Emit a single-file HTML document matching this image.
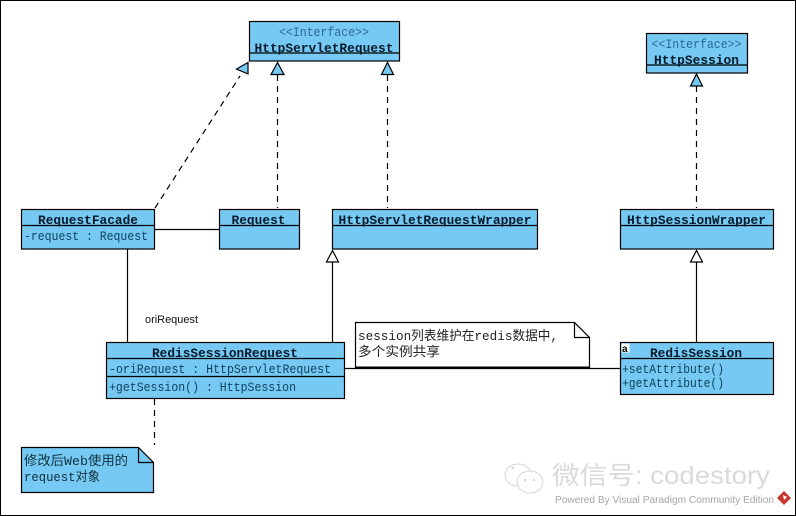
<!DOCTYPE html>
<html><head><meta charset="utf-8">
<style>
html,body{margin:0;padding:0;background:#fff;width:796px;height:516px;overflow:hidden}
svg{display:block}
.b{fill:#76c9f2;stroke:#000;stroke-width:1.2}
.l{stroke:#000;stroke-width:1.2;fill:none}
.d{stroke:#000;stroke-width:1.2;fill:none;stroke-dasharray:6 5}
.n{font:bold 13px "Liberation Mono","Noto Sans CJK SC",monospace;fill:#021a2c;text-anchor:middle}
.a{font:13px "Liberation Mono","Noto Sans CJK SC",monospace;fill:#0f4260}
.s{font:13px "Liberation Mono",monospace;fill:#2a6a90;text-anchor:middle}
.c{font:13px "Liberation Mono","Noto Sans CJK SC",monospace;fill:#10303f}
.w{font:13px "Liberation Mono","Noto Sans CJK SC",monospace;fill:#222}
</style></head><body>
<svg width="796" height="516" viewBox="0 0 796 516" xmlns="http://www.w3.org/2000/svg">
<rect x="0.5" y="0.5" width="795" height="515" fill="#fff" stroke="#000" stroke-width="1"/>

<!-- connectors -->
<line class="d" x1="155" y1="208" x2="240" y2="76"/>
<line class="d" x1="277.5" y1="75" x2="277.5" y2="208"/>
<line class="d" x1="387.5" y1="75" x2="387.5" y2="208"/>
<line class="d" x1="696.5" y1="86" x2="696.5" y2="208"/>
<line class="l" x1="155" y1="229.5" x2="219" y2="229.5"/>
<line class="l" x1="127.5" y1="249" x2="127.5" y2="342"/>
<line class="l" x1="332.5" y1="262" x2="332.5" y2="342"/>
<line class="l" x1="696.5" y1="262" x2="696.5" y2="342"/>
<line class="l" x1="345" y1="368.5" x2="620" y2="368.5"/>
<line class="d" x1="154.5" y1="399" x2="154.5" y2="445"/>

<!-- arrowheads -->
<polygon class="b" points="248,62.5 236.5,69 248,74"/>
<polygon class="b" points="277.5,62.5 271,74.5 284,74.5"/>
<polygon class="b" points="387.5,62.5 381.5,74.5 393.5,74.5"/>
<polygon class="b" points="696.5,74 690.5,86 702.5,86"/>
<polygon points="332.5,250.5 326.5,262 338.5,262" fill="#fff" stroke="#000" stroke-width="1.2"/>
<polygon points="696.5,250.5 690.5,262 702.5,262" fill="#fff" stroke="#000" stroke-width="1.2"/>

<!-- HttpServletRequest -->
<rect class="b" x="249.5" y="21.5" width="150" height="39.5"/>
<line class="l" x1="249.5" y1="53" x2="399.5" y2="53"/>
<text class="s" x="324" y="36" textLength="90" lengthAdjust="spacingAndGlyphs">&lt;&lt;Interface&gt;&gt;</text>
<text class="n" x="324" y="52" textLength="139" lengthAdjust="spacingAndGlyphs">HttpServletRequest</text>

<!-- HttpSession iface -->
<rect class="b" x="646.5" y="33.5" width="101" height="39.5"/>
<line class="l" x1="646.5" y1="65" x2="747.5" y2="65"/>
<text class="s" x="696.5" y="48" textLength="90" lengthAdjust="spacingAndGlyphs">&lt;&lt;Interface&gt;&gt;</text>
<text class="n" x="696.5" y="64" textLength="85" lengthAdjust="spacingAndGlyphs">HttpSession</text>

<!-- RequestFacade -->
<rect class="b" x="21.5" y="209.5" width="133" height="39.5"/>
<line class="l" x1="21.5" y1="225.5" x2="154.5" y2="225.5"/>
<text class="n" x="88" y="224" textLength="100" lengthAdjust="spacingAndGlyphs">RequestFacade</text>
<text class="a" x="24" y="240" textLength="124" lengthAdjust="spacingAndGlyphs">-request : Request</text>

<!-- Request -->
<rect class="b" x="219.5" y="209.5" width="80" height="39.5"/>
<line class="l" x1="219.5" y1="225.5" x2="299.5" y2="225.5"/>
<text class="n" x="258.5" y="224" textLength="54" lengthAdjust="spacingAndGlyphs">Request</text>

<!-- HttpServletRequestWrapper -->
<rect class="b" x="332.5" y="209.5" width="205" height="39.5"/>
<line class="l" x1="332.5" y1="225.5" x2="537.5" y2="225.5"/>
<text class="n" x="435" y="224" textLength="193" lengthAdjust="spacingAndGlyphs">HttpServletRequestWrapper</text>

<!-- HttpSessionWrapper -->
<rect class="b" x="620.5" y="209.5" width="153" height="39.5"/>
<line class="l" x1="620.5" y1="225.5" x2="773.5" y2="225.5"/>
<text class="n" x="696.5" y="224" textLength="139" lengthAdjust="spacingAndGlyphs">HttpSessionWrapper</text>

<!-- oriRequest -->
<text x="145" y="323" font-family="Liberation Sans,sans-serif" font-size="11" fill="#111" textLength="53" lengthAdjust="spacingAndGlyphs">oriRequest</text>

<!-- RedisSessionRequest -->
<rect class="b" x="106.5" y="342.5" width="238" height="56"/>
<line class="l" x1="106.5" y1="358.5" x2="344.5" y2="358.5"/>
<line class="l" x1="106.5" y1="376.5" x2="344.5" y2="376.5"/>
<text class="n" x="225" y="357" textLength="146" lengthAdjust="spacingAndGlyphs">RedisSessionRequest</text>
<text class="a" x="109" y="373" textLength="222" lengthAdjust="spacingAndGlyphs">-oriRequest : HttpServletRequest</text>
<text class="a" x="109" y="391" textLength="187" lengthAdjust="spacingAndGlyphs">+getSession() : HttpSession</text>

<!-- RedisSession -->
<rect class="b" x="620.5" y="342.5" width="153" height="52"/>
<line class="l" x1="620.5" y1="358.5" x2="773.5" y2="358.5"/>
<rect x="621.5" y="343.5" width="8" height="9" fill="#fff"/>
<text x="622" y="352" font-family="Liberation Sans,sans-serif" font-weight="bold" font-size="10" fill="#000">a</text>
<text class="n" x="696" y="357" textLength="92" lengthAdjust="spacingAndGlyphs">RedisSession</text>
<text class="a" x="622" y="373" textLength="102" lengthAdjust="spacingAndGlyphs">+setAttribute()</text>
<text class="a" x="622" y="387" textLength="102" lengthAdjust="spacingAndGlyphs">+getAttribute()</text>

<!-- Note: session -->
<path d="M355.5 322.5H574.5L589.5 337.5V367.5H355.5Z" fill="#fff" stroke="#000" stroke-width="1.2"/>
<path d="M574.5 322.5V337.5H589.5" fill="none" stroke="#000" stroke-width="1.2"/>
<line x1="355.5" y1="367.5" x2="589.5" y2="367.5" stroke="#000" stroke-width="2"/>
<text class="w" x="358" y="340" textLength="200" lengthAdjust="spacingAndGlyphs">session列表维护在redis数据中,</text>
<text class="w" x="358" y="356" textLength="82" lengthAdjust="spacingAndGlyphs">多个实例共享</text>

<!-- Note: request -->
<path d="M21.5 447.5H138.5L153.5 462.5V492.5H21.5Z" class="b"/>
<path d="M138.5 447.5V462.5H153.5" fill="none" stroke="#000" stroke-width="1.2"/>
<text class="c" x="24" y="465" textLength="104" lengthAdjust="spacingAndGlyphs">修改后Web使用的</text>
<text class="c" x="24" y="481" textLength="76" lengthAdjust="spacingAndGlyphs">request对象</text>

<!-- watermark -->
<g fill="#fff" stroke="#dcdcdc" stroke-width="1.2">
<ellipse cx="518" cy="475" rx="13" ry="11"/>
<ellipse cx="530" cy="482" rx="13" ry="11"/>
</g>
<g fill="#cfcfcf"><circle cx="525" cy="480" r="1.1"/><circle cx="534" cy="480" r="1.1"/><circle cx="513" cy="468" r="1.1"/></g>
<text x="552" y="484" font-family="Liberation Sans,'Noto Sans CJK SC',sans-serif" font-size="25" fill="#dadada" textLength="218" lengthAdjust="spacingAndGlyphs">微信号: codestory</text>
<text x="555" y="503" font-family="Liberation Sans,sans-serif" font-size="10.5" fill="#a6a6a6" textLength="219" lengthAdjust="spacingAndGlyphs">Powered By  Visual Paradigm Community Edition</text>
<polygon points="784,491 791,498 784,505 777,498" fill="#c8372d"/>
<polygon points="783,495 787,497 784,500" fill="#fff"/>
</svg>
</body></html>
